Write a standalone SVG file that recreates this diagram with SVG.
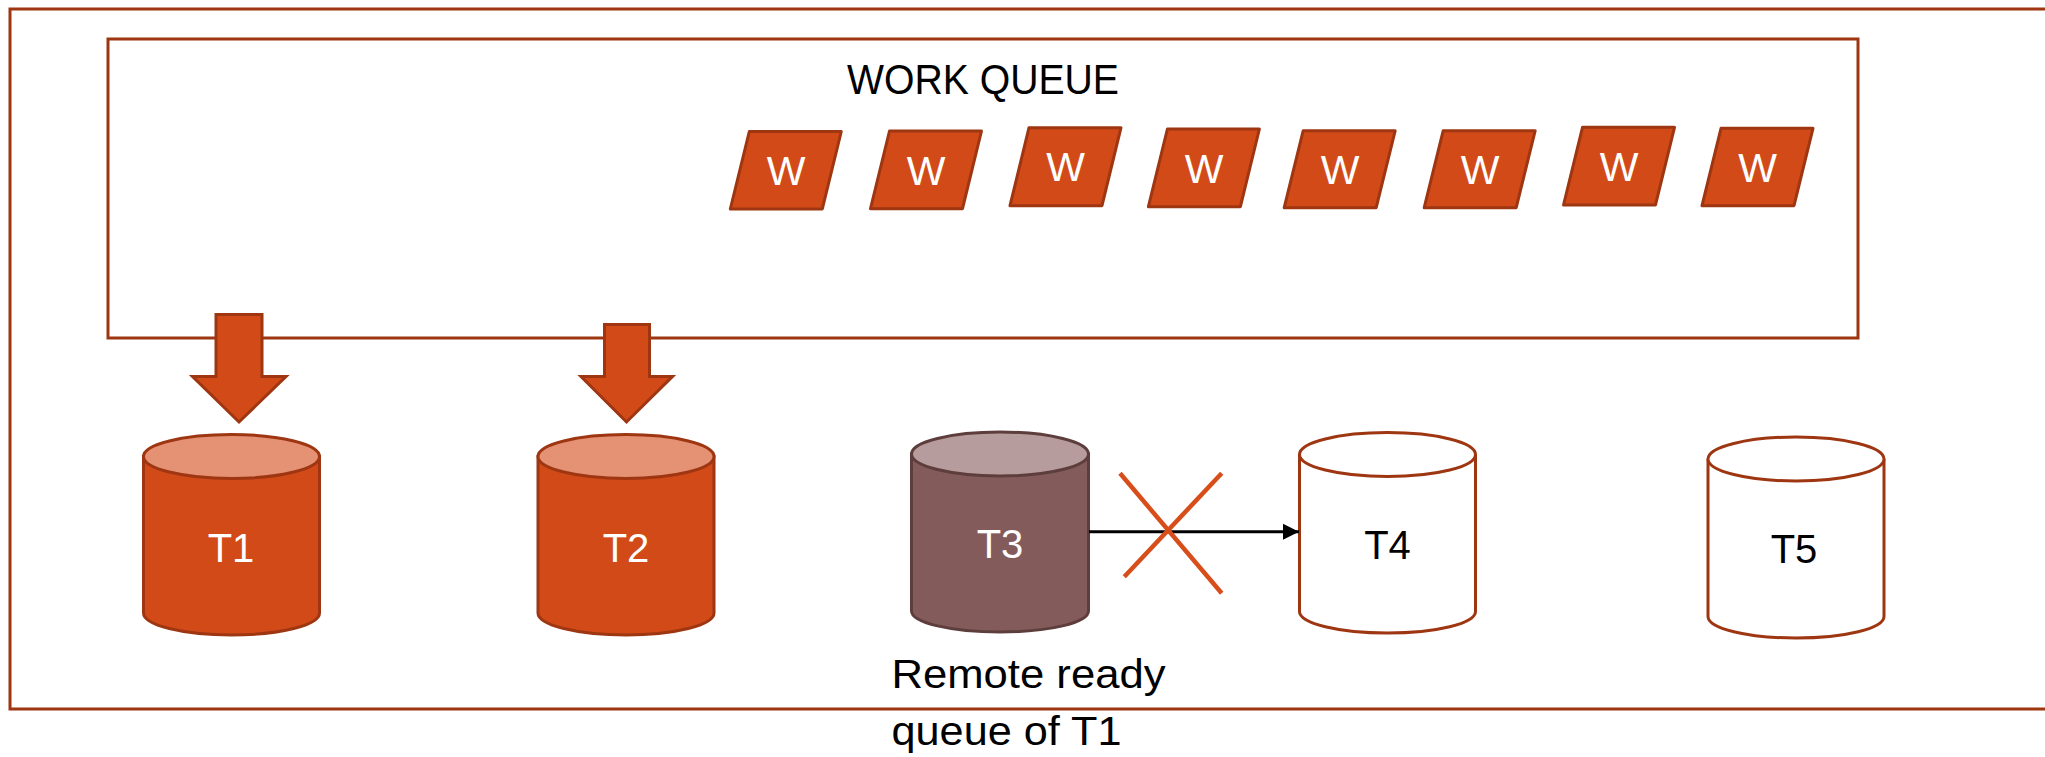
<svg xmlns="http://www.w3.org/2000/svg" width="2045" height="757" viewBox="0 0 2045 757">
  <style>
    .frame { fill: none; stroke: #9E3612; stroke-width: 3; }
    .w-box { fill: #D24A18; stroke: #9E3612; stroke-width: 3; stroke-linejoin: round; }
    .w-lbl { font-family: "Liberation Sans", Arial, sans-serif; font-size: 41px; fill: #FFFFFF; text-anchor: middle; }
    .cyl-hot { fill: #D24A18; stroke: #9E3612; stroke-width: 3; }
    .cyl-hot-top { fill: #E59174; stroke: #9E3612; stroke-width: 3; }
    .cyl-dim { fill: #835B5B; stroke: #5E3D3D; stroke-width: 3; }
    .cyl-dim-top { fill: #B69C9C; stroke: #5E3D3D; stroke-width: 3; }
    .cyl-empty { fill: #FFFFFF; stroke: #9E3612; stroke-width: 3; }
    .t-lbl { font-family: "Liberation Sans", Arial, sans-serif; font-size: 40px; text-anchor: middle; }
    .caption { font-family: "Liberation Sans", Arial, sans-serif; font-size: 41px; fill: #000000; }
    .title { font-family: "Liberation Sans", Arial, sans-serif; font-size: 43px; fill: #000000; }
    .block-arrow { fill: #D24A18; stroke: #9E3612; stroke-width: 3; stroke-linejoin: miter; }
    .link { stroke: #000000; stroke-width: 3; fill: none; }
    .cross { stroke: #D84E1A; stroke-width: 4.5; fill: none; }
  </style>
  <defs>
    <marker id="arrowhead" viewBox="0 0 10 10" refX="10" refY="5" markerWidth="5.5" markerHeight="5.5" orient="auto" markerUnits="strokeWidth">
      <path d="M0,0 L10,5 L0,10 Z" fill="#000000"/>
    </marker>
  </defs>

  <rect id="white-bg" x="0" y="0" width="2045" height="757" fill="#FFFFFF"/>

  <!-- outer frame (runs past the right edge) -->
  <rect id="outer-frame" class="frame" x="10" y="9" width="2060" height="700"/>

  <!-- work queue -->
  <g id="work-queue">
    <rect class="frame" x="108" y="39" width="1750" height="299"/>
    <text class="title" x="847" y="94" textLength="272" lengthAdjust="spacingAndGlyphs">WORK QUEUE</text>
  </g>

  <g id="w1"><polygon class="w-box" points="749.3,131.5 841.3,131.5 822.3,209 730.3,209"/><text class="w-lbl" x="786" y="185">W</text></g>
  <g id="w2"><polygon class="w-box" points="889.5,131 981.5,131 962.5,208.7 870.5,208.7"/><text class="w-lbl" x="926" y="184.5">W</text></g>
  <g id="w3"><polygon class="w-box" points="1029,127.7 1121,127.7 1102,205.7 1010,205.7"/><text class="w-lbl" x="1065.5" y="181.2">W</text></g>
  <g id="w4"><polygon class="w-box" points="1167.4,129 1259.4,129 1240.4,206.7 1148.4,206.7"/><text class="w-lbl" x="1204" y="182.5">W</text></g>
  <g id="w5"><polygon class="w-box" points="1303.2,130.7 1395.2,130.7 1376.2,207.7 1284.2,207.7"/><text class="w-lbl" x="1340" y="184.2">W</text></g>
  <g id="w6"><polygon class="w-box" points="1443.2,130.7 1535.2,130.7 1516.2,207.7 1424.2,207.7"/><text class="w-lbl" x="1480" y="184.2">W</text></g>
  <g id="w7"><polygon class="w-box" points="1582.5,127.3 1674.5,127.3 1655.5,205 1563.5,205"/><text class="w-lbl" x="1619" y="180.8">W</text></g>
  <g id="w8"><polygon class="w-box" points="1721,128.3 1813,128.3 1794,205.7 1702,205.7"/><text class="w-lbl" x="1757.5" y="181.8">W</text></g>

  <!-- cylinders -->
  <g id="t1">
    <path class="cyl-hot" d="M143.5,456.5 V613 A88,22 0 0 0 319.5,613 V456.5 Z"/>
    <ellipse class="cyl-hot-top" cx="231.5" cy="456.5" rx="88" ry="22"/>
    <text class="t-lbl" x="231" y="562" fill="#FFFFFF">T1</text>
  </g>
  <g id="t2">
    <path class="cyl-hot" d="M538,456.5 V613 A88,22 0 0 0 714,613 V456.5 Z"/>
    <ellipse class="cyl-hot-top" cx="626" cy="456.5" rx="88" ry="22"/>
    <text class="t-lbl" x="626" y="562" fill="#FFFFFF">T2</text>
  </g>
  <g id="t3">
    <path class="cyl-dim" d="M911.5,454 V611 A88.5,21 0 0 0 1088.5,611 V454 Z"/>
    <ellipse class="cyl-dim-top" cx="1000" cy="454" rx="88.5" ry="22"/>
    <text class="t-lbl" x="1000" y="558" fill="#FFFFFF">T3</text>
  </g>
  <g id="t4">
    <path class="cyl-empty" d="M1299.5,454.5 V611.5 A88,21.5 0 0 0 1475.5,611.5 V454.5"/>
    <ellipse class="cyl-empty" cx="1387.5" cy="454.5" rx="88" ry="22"/>
    <text class="t-lbl" x="1387.5" y="559" fill="#000000">T4</text>
  </g>
  <g id="t5">
    <path class="cyl-empty" d="M1708,459 V616.5 A88,21.5 0 0 0 1884,616.5 V459"/>
    <ellipse class="cyl-empty" cx="1796" cy="459" rx="88" ry="22"/>
    <text class="t-lbl" x="1794" y="563" fill="#000000">T5</text>
  </g>

  <!-- caption under T3 -->
  <g id="remote-caption">
    <text class="caption" x="891.5" y="688" textLength="274" lengthAdjust="spacingAndGlyphs">Remote ready</text>
    <text class="caption" x="891.5" y="745" textLength="230" lengthAdjust="spacingAndGlyphs">queue of T1</text>
  </g>

  <!-- connectors -->
  <g id="connectors">
    <path class="block-arrow" d="M216,314.5 H262 V376.5 H286 L239,422 L192.5,376.5 H216 Z"/>
    <path class="block-arrow" d="M604.5,324.5 H649.5 V376.5 H672.5 L626.5,422 L581,376.5 H604.5 Z"/>
    <line class="link" x1="1089" y1="531.7" x2="1299" y2="531.7" marker-end="url(#arrowhead)"/>
    <line class="cross" x1="1120" y1="473.3" x2="1221.7" y2="593.3"/>
    <line class="cross" x1="1221.7" y1="473.3" x2="1124.3" y2="576.7"/>
  </g>
</svg>
